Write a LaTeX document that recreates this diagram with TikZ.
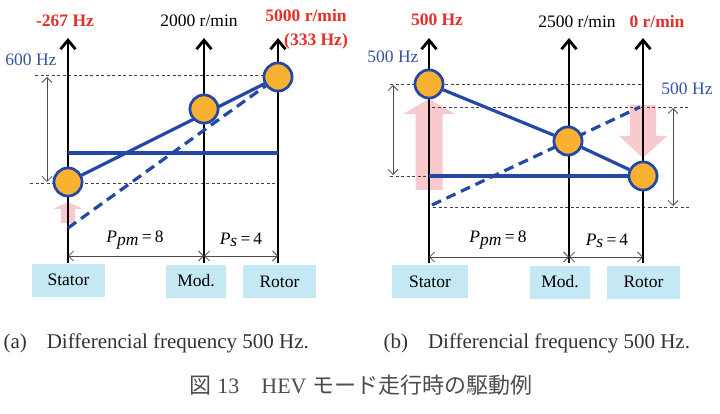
\documentclass[tikz,border=0pt]{standalone}
\usepackage{fontspec}
\setmainfont{Liberation Serif}
\newfontfamily\jpfont{Noto Sans CJK JP}
\usetikzlibrary{arrows.meta, calc}

\definecolor{lineblue}{HTML}{2448A6}
\definecolor{dotorange}{HTML}{F9B131}
\definecolor{boxblue}{HTML}{C5E8F5}
\definecolor{hzred}{HTML}{E3302B}
\definecolor{hzblue}{HTML}{3552A3}
\definecolor{arrowpink}{HTML}{FAC9CD}
\definecolor{captext}{HTML}{333333}

\begin{document}
\begin{tikzpicture}[
      x=1pt, y=-1pt,
      font=\fontsize{17.5}{20}\selectfont,
      axis/.style={line width=2.8pt, -{Straight Barb[length=9pt, width=15pt]}},
      gear/.style={circle, draw=lineblue, line width=2.6pt, fill=dotorange, minimum size=28pt, inner sep=0pt},
      member/.style={rectangle, fill=boxblue, minimum height=33pt, inner sep=0pt},
      speed/.style={draw=lineblue, line width=3.2pt},
      level/.style={black!75, line width=0.8pt, dash pattern=on 3pt off 2.5pt},
      span/.style={black!70, line width=0.8pt, {Straight Barb[length=5pt, width=10pt]}-{Straight Barb[length=5pt, width=10pt]}},
      push/.style={fill=arrowpink},
      hot/.style={text=hzred, font=\fontsize{17.5}{20}\selectfont\bfseries},
      cool/.style={text=hzblue},
      subcap/.style={text=captext, font=\fontsize{21}{24}\selectfont}
    ]
    \useasboundingbox (0,0) rectangle (720,414);

    % pink force arrows
    \fill[push] (68,202) -- (83,209) -- (75,209) -- (75,223) -- (61,223) -- (61,209) -- (53,209) -- cycle;
    \fill[push] (429,99) -- (455,114) -- (442.5,114) -- (442.5,190) -- (415.5,190) -- (415.5,114) -- (403,114) -- cycle;
    \fill[push] (643,158) -- (667,136) -- (656,136) -- (656,105) -- (630,105) -- (630,136) -- (619,136) -- cycle;

    % axes of the three members
    \foreach \x/\n in {68/aS, 204/aM, 278/aR, 429/bS, 569/bM, 643/bR} {
      \coordinate (\n0) at (\x,263);
      \coordinate (\n1) at (\x,38);
    }

    % (a) levels
    \coordinate (aL1) at (35,75);
    \coordinate (aL2) at (30,183);
    \draw[level] (aL1) -- (aL1 -| aR0);
    \draw[level] (aL2) -- (aL2 -| aR0);
    \draw[span] (47,77) -- (47,182);

    % (b) levels
    \coordinate (bL1) at (390,84);
    \coordinate (bL2) at (432,107);
    \coordinate (bL3) at (390,176);
    \coordinate (bL4) at (433,207);
    \draw[level] (bL1) -- (bL1 -| bR0);
    \draw[level] (bL2) -- (690,107);
    \draw[level] (bL3) -- (bL3 -| bR0);
    \draw[level] (bL4) -- (690,207);
    \draw[span] (393,85) -- (393,175);
    \draw[span] (673,108) -- (673,206);

    \foreach \n in {aS, aM, aR, bS, bM, bR}
      \draw[axis] (\n0) -- (\n1);

    % (a) speed lines
    \node[gear] (aR) at (278,77) {};
    \node[gear] (aM) at (204,109) {};
    \node[gear] (aS) at (68,182) {};
    \coordinate (aD) at (68,228);
    \draw[speed] (aS) -- (aR);
    \draw[speed, dash pattern=on 10pt off 6pt] (aD) -- (aR);
    \draw[speed] (68,153) -- (278,153);
    \node[gear] at (aR) {};
    \node[gear] at (aM) {};
    \node[gear] at (aS) {};

    % (b) speed lines
    \node[gear] (bS) at (429,84) {};
    \node[gear] (bM) at (568,141) {};
    \node[gear] (bR) at (643,176) {};
    \coordinate (bD) at (432,205);
    \coordinate (bE) at (640,107);
    \draw[speed] (bS) -- (bM) -- (bR);
    \draw[speed] (bS0 |- bR) -- (bR);
    \draw[speed, dash pattern=on 10pt off 6pt] (bD) -- (bE);
    \node[gear] at (bS) {};
    \node[gear] at (bM) {};
    \node[gear] at (bR) {};

    % labels on top
    \node[hot] (aTs) at (65,21) {-267 Hz};
    \node (aTm) at (199,21) {2000 r/min};
    \node[hot] (aTr) at (306,16) {5000 r/min};
    \node[hot] (aTq) at (316,41) {(333 Hz)};
    \node[cool] (aTb) at (31,60) {600 Hz};
    \node[hot] (bTs) at (437,20) {500 Hz};
    \node (bTm) at (577,22) {2500 r/min};
    \node[hot] (bTr) at (657,22) {0 r/min};
    \node[cool] (bTb) at (393,57) {500 Hz};
    \node[cool] (bTc) at (687,89) {500 Hz};

    % pole pair spans
    \coordinate (aP) at (0,256);
    \coordinate (bP) at (0,257);
    \draw[span] (aS0 |- aP) -- (aM0 |- aP);
    \draw[span] (aM0 |- aP) -- (aR0 |- aP);
    \draw[span] (bS0 |- bP) -- (bM0 |- bP);
    \draw[span] (bM0 |- bP) -- (bR0 |- bP);
    \node (aPpm) at (135,240) {\textit{P}$_{\textit{pm}}$\,=\,8};
    \node (aPs) at (241,240) {\textit{P}$_{\textit{s}}$\,=\,4};
    \node (bPpm) at (498,240) {\textit{P}$_{\textit{pm}}$\,=\,8};
    \node (bPs) at (607,241) {\textit{P}$_{\textit{s}}$\,=\,4};

    % members
    \node[member, minimum width=73pt] (aSbox) at (68.5,280) {Stator};
    \node[member, minimum width=60pt] (aMbox) at (196,281) {Mod.};
    \node[member, minimum width=73pt] (aRbox) at (279.5,281.5) {Rotor};
    \node[member, minimum width=76pt] (bSbox) at (430,281.5) {Stator};
    \node[member, minimum width=60pt] (bMbox) at (560,282) {Mod.};
    \node[member, minimum width=73pt] (bRbox) at (643.5,282) {Rotor};

    % captions
    \node[subcap, anchor=west] (aCap) at (0,343) {(a)\hspace{20pt}Differencial frequency 500 Hz.};
    \node[subcap, anchor=west] (bCap) at (380,343) {(b)\hspace{20pt}Differencial frequency 500 Hz.};
    \node[text=black!70, font=\fontsize{22}{26}\selectfont] (fig) at (361,385)
      {{\jpfont 図}~13\quad HEV~{\jpfont モード走行時の駆動例}};
  \end{tikzpicture}
\end{document}
